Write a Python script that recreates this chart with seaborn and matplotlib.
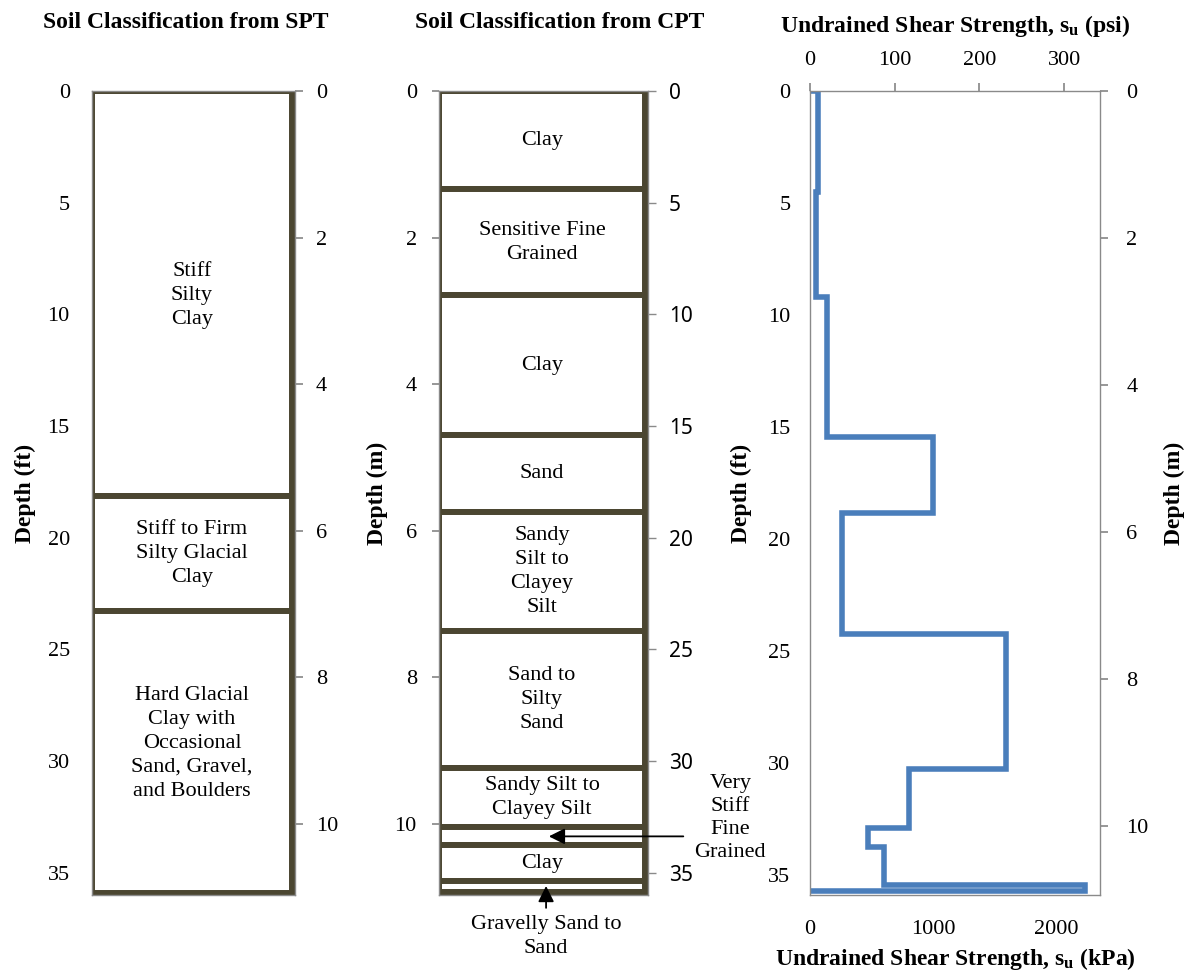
import numpy as np
import pandas as pd
import matplotlib
matplotlib.use("Agg")
import matplotlib.pyplot as plt
import seaborn as sns

# ---------------- data (depths in ft, strength in kPa) ----------------
spt_tops = [0.0, 18.13, 23.3]
spt_bottoms = [18.13, 23.3, 35.92]
spt_labels = ["Stiff\nSilty\nClay",
              "Stiff to Firm\nSilty Glacial\nClay",
              "Hard Glacial\nClay with\nOccasional\nSand, Gravel,\nand Boulders"]

cpt_tops = [0.0, 4.39, 9.15, 15.42, 18.85, 24.2, 30.3, 32.97, 33.78, 35.39]
cpt_bottoms = [4.39, 9.15, 15.42, 18.85, 24.2, 30.3, 32.97, 33.78, 35.39, 35.85]
cpt_labels = ["Clay", "Sensitive Fine\nGrained", "Clay", "Sand",
              "Sandy\nSilt to\nClayey\nSilt", "Sand to\nSilty\nSand",
              "Sandy Silt to\nClayey Silt", "", "Clay", ""]

su_tops = [0.0, 4.5, 9.2, 15.44, 18.83, 24.23, 30.27, 32.9, 33.75, 35.44]
su_bottoms = [4.5, 9.2, 15.44, 18.83, 24.23, 30.27, 32.9, 33.75, 35.44, 35.72]
su_kpa = [68, 50, 136, 1003, 258, 1591, 805, 469, 604, 2236]

ft_ticks = [0, 5, 10, 15, 20, 25, 30, 35]
m_ticks = [0, 2, 4, 6, 8, 10]
kpa_ticks = [0, 1000, 2000]
psi_ticks = [0, 100, 200, 300]

# ---------------- style ----------------
sns.set_theme(style="white")
plt.rcParams["font.family"] = ["Liberation Serif", "DejaVu Serif"]
plt.rcParams["mathtext.fontset"] = "custom"
plt.rcParams["mathtext.rm"] = "Liberation Serif"
plt.rcParams["mathtext.bf"] = "Liberation Serif:bold"
plt.rcParams["mathtext.it"] = "Liberation Serif:italic"
for key in ["text.color", "axes.labelcolor", "xtick.labelcolor", "ytick.labelcolor"]:
    plt.rcParams[key] = "black"

GREY = "#8a8a8a"
EDGE = "#4b4631"
BLUE = "#4a7ebb"
FS = 16
LFS = 17
LS = 1.35

ft2m = lambda y: np.asarray(y) * 0.3048
m2ft = lambda y: np.asarray(y) / 0.3048
kpa2psi = lambda x: np.asarray(x) / 6.894757
psi2kpa = lambda x: np.asarray(x) * 6.894757

W, H = 1188, 973
fig = plt.figure(figsize=(W / 100, H / 100), dpi=100)


def box(px_left, px_top, px_right, px_bottom):
    return [px_left / W, 1 - px_bottom / H, (px_right - px_left) / W, (px_bottom - px_top) / H]


YMAX = 36.0


def style_ax(ax):
    for s in ax.spines.values():
        s.set_color(GREY)
        s.set_linewidth(1.0)
    ax.tick_params(labelcolor="black", labelsize=FS)
    ax.tick_params(axis="both", which="major", color=GREY, length=5, width=1.0, direction="out")


def column(ax, tops, bottoms, labels, offsets=None):
    thick = np.array(bottoms) - np.array(tops)
    ax.bar(0.5, thick, bottom=tops, width=1.0, color="white",
           edgecolor=EDGE, linewidth=4.3, zorder=2)
    ax.set_xlim(0, 1.015)
    ax.set_ylim(YMAX, 0)
    ax.set_xticks([])
    for i, (t, b, lab) in enumerate(zip(tops, bottoms, labels)):
        if lab:
            off = offsets[i] if offsets else 0.0
            ax.text(0.5, (t + b) / 2 + off, lab, ha="center", va="center",
                    fontsize=FS, linespacing=LS, zorder=3, color="black")


# ---------------- panel 1: SPT ----------------
ax1 = fig.add_axes(box(92, 91, 295, 895))
style_ax(ax1)
column(ax1, spt_tops, spt_bottoms, spt_labels, offsets=[0.1, 0.0, -0.4])
ax1.set_yticks(ft_ticks)
ax1.tick_params(axis="y", pad=11, length=5)
ax1.set_ylabel("Depth (ft)", fontsize=LFS, fontweight="bold", labelpad=8, color="black")
sec1 = ax1.secondary_yaxis("right", functions=(ft2m, m2ft))
sec1.set_yticks(m_ticks)
sec1.spines["right"].set_visible(False)
sec1.tick_params(axis="y", color=GREY, length=6, pad=9, labelsize=FS, labelcolor="black")
sec1.set_ylabel("Depth (m)", fontsize=LFS, fontweight="bold", labelpad=21, color="black")
fig.text(186 / W, 1 - 22 / H, "Soil Classification from SPT", ha="center", va="center",
         fontsize=LFS, fontweight="bold", color="black")

# ---------------- panel 2: CPT ----------------
ax2 = fig.add_axes(box(439, 91, 648, 895))
style_ax(ax2)
column(ax2, cpt_tops, cpt_bottoms, cpt_labels)
ax2.yaxis.tick_right()
ax2.set_yticks(ft_ticks)
ax2.tick_params(axis="y", pad=9, length=6, labelsize=15)
for lab in ax2.get_yticklabels():
    lab.set_fontfamily("Noto Sans")
    lab.set_fontsize(15)
sec2 = ax2.secondary_yaxis("left", functions=(ft2m, m2ft))
sec2.set_yticks(m_ticks)
sec2.spines["left"].set_visible(False)
sec2.tick_params(axis="y", color=GREY, length=5, pad=11, labelsize=FS, labelcolor="black")
fig.text(560 / W, 1 - 22 / H, "Soil Classification from CPT", ha="center", va="center",
         fontsize=LFS, fontweight="bold", color="black")

# annotations for thin layers
vs_mid = (cpt_tops[7] + cpt_bottoms[7]) / 2
ax2.annotate("", xy=(0.52, vs_mid), xytext=(1.2, vs_mid),
             arrowprops=dict(arrowstyle="-|>", color="black", lw=1.3, mutation_scale=24),
             annotation_clip=False, zorder=5)
ax2.text(1.415, 32.55, "Very\nStiff\nFine\nGrained", ha="center", va="center",
         fontsize=FS, linespacing=1.3, clip_on=False, color="black")
gs_mid = cpt_tops[9] + 0.08
ax2.annotate("", xy=(0.52, gs_mid), xytext=(0.52, 36.7),
             arrowprops=dict(arrowstyle="-|>", color="black", lw=1.3, mutation_scale=24),
             annotation_clip=False, zorder=5)
ax2.text(0.52, 37.85, "Gravelly Sand to\nSand", ha="center", va="center",
         fontsize=FS, linespacing=LS, clip_on=False, color="black")

# ---------------- panel 3: undrained shear strength ----------------
ax3 = fig.add_axes(box(810, 91, 1100, 895))
style_ax(ax3)
xs, ys = [0], [su_tops[0]]
for t, b, s in zip(su_tops, su_bottoms, su_kpa):
    xs += [s, s]
    ys += [t, b]
xs.append(0)
ys.append(su_bottoms[-1])
df = pd.DataFrame({"su": xs, "depth": ys})
sns.lineplot(data=df, x="su", y="depth", sort=False, estimator=None, ax=ax3,
             color=BLUE, linewidth=4.0, solid_joinstyle="miter")
ax3.set_xlim(0, 2360)
ax3.set_ylim(YMAX - 0.1, 0)
ax3.set_xticks(kpa_ticks)
ax3.set_yticks(ft_ticks)
ax3.tick_params(axis="x", pad=12, length=6)
ax3.tick_params(axis="y", pad=8, length=6)
ax3.set_ylabel("Depth (ft)", fontsize=LFS, fontweight="bold", labelpad=12, color="black")
ax3.set_xlabel(r"Undrained Shear Strength, $\mathbf{s_u}$ (kPa)", fontsize=LFS,
               fontweight="bold", labelpad=5, color="black")
top = ax3.secondary_xaxis("top", functions=(kpa2psi, psi2kpa))
top.set_xticks(psi_ticks)
top.spines["top"].set_visible(False)
top.tick_params(axis="x", color=GREY, length=6, pad=9, labelsize=FS, labelcolor="black")
top.set_xlabel(r"Undrained Shear Strength, $\mathbf{s_u}$ (psi)", fontsize=LFS,
               fontweight="bold", labelpad=14, color="black")
right = ax3.secondary_yaxis("right", functions=(ft2m, m2ft))
right.set_yticks(m_ticks)
right.spines["right"].set_visible(False)
right.tick_params(axis="y", color=GREY, length=6, pad=13, labelsize=FS, labelcolor="black")
right.set_ylabel("Depth (m)", fontsize=LFS, fontweight="bold", labelpad=11, color="black")

fig.savefig("out.png", dpi=100)
